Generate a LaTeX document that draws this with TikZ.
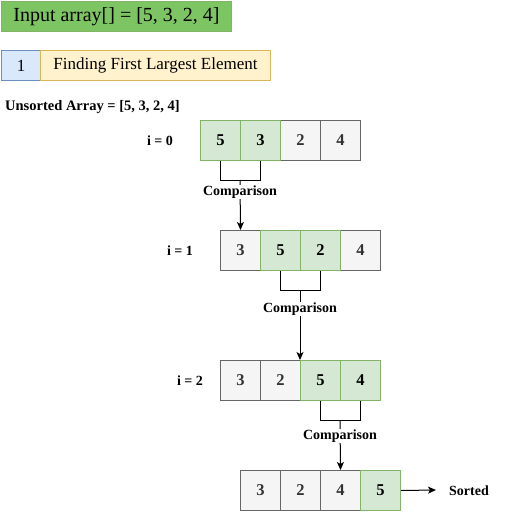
\documentclass[tikz,border=0pt]{standalone}
\usepackage{fontspec}
\setmainfont{Liberation Serif}
\usetikzlibrary{arrows.meta}
\definecolor{topgreen}{RGB}{125,196,98}
\definecolor{gstroke}{HTML}{82B366}
\definecolor{gfill}{HTML}{D5E8D4}
\definecolor{grstroke}{HTML}{666666}
\definecolor{grfill}{HTML}{F5F5F5}
\definecolor{bfill}{HTML}{DAE8FC}
\definecolor{bstroke}{HTML}{6C8EBF}
\definecolor{yfill}{HTML}{FFF2CC}
\definecolor{ystroke}{HTML}{D6B656}
\tikzset{
  cellbase/.style={minimum width=40pt,minimum height=40pt,inner sep=0pt,anchor=north west,line width=1pt,font=\fontsize{16.5}{19}\selectfont\bfseries},
  graycell/.style={cellbase,draw=grstroke,fill=grfill,text=black!80},
  greencell/.style={cellbase,draw=gstroke,fill=gfill},
  lbl/.style={font=\fontsize{14}{17}\selectfont\bfseries,inner sep=1pt},
  cmp/.style={lbl,fill=white},
  conn/.style={line width=1pt,draw=black},
  arr/.style={conn,-{Stealth[length=8pt,width=7pt,inset=2pt]}}
}
\begin{document}
\begin{tikzpicture}[x=1pt,y=-1pt]
\useasboundingbox (0,0) rectangle (505,512);
% header
\node[draw=gstroke,fill=topgreen,line width=1pt,minimum width=230pt,minimum height=30pt,inner sep=0pt,anchor=north west,font=\fontsize{20}{24}\selectfont] (title) at (1,1) {Input array[] = [5, 3, 2, 4]};
\node[draw=bstroke,fill=bfill,line width=1pt,minimum width=39pt,minimum height=30pt,inner sep=0pt,anchor=north west,font=\fontsize{17}{20}\selectfont] (num) at (1,50) {1};
\node[draw=ystroke,fill=yfill,line width=1pt,minimum width=230pt,minimum height=30pt,inner sep=0pt,anchor=north west,font=\fontsize{17}{20}\selectfont] (step1) at (40,50) {Finding First Largest Element};
\node[font=\fontsize{14.5}{17}\selectfont\bfseries,inner sep=1pt,anchor=west] (uns) at (4,107) {Unsorted Array = [5, 3, 2, 4]};
% row 0
\node[lbl] (i0) at (160,141) {i = 0};
\node[graycell] (a2) at (280,120) {2};
\node[graycell] (a3) at (320,120) {4};
\node[greencell] (a0) at (200,120) {5};
\node[greencell] (a1) at (240,120) {3};
% row 1
\node[lbl] (i1) at (180,251) {i = 1};
\node[graycell] (b0) at (220,230) {3};
\node[graycell] (b3) at (340,230) {4};
\node[greencell] (b1) at (260,230) {5};
\node[greencell] (b2) at (300,230) {2};
% row 2
\node[lbl] (i2) at (190,381) {i = 2};
\node[graycell] (c0) at (220,360) {3};
\node[graycell] (c1) at (260,360) {2};
\node[greencell] (c2) at (300,360) {5};
\node[greencell] (c3) at (340,360) {4};
% row 3
\node[graycell] (d0) at (240,470) {3};
\node[graycell] (d1) at (280,470) {2};
\node[graycell] (d2) at (320,470) {4};
\node[greencell] (d3) at (360,470) {5};
% brackets and arrows
\coordinate (m0) at (240,180);
\draw[conn] (a0.south) -- (a0.south |- m0) -- (a1.south |- m0) -- (a1.south);
\draw[arr] (m0) -- (b0.north);
\node[cmp] (cmp0) at (240,192) {Comparison};
\coordinate (m1) at (300,290);
\draw[conn] (b1.south) -- (b1.south |- m1) -- (b2.south |- m1) -- (b2.south);
\draw[arr] (m1) -- (m1 |- c2.north);
\node[cmp] (cmp1) at (300,309) {Comparison};
\coordinate (m2) at (340,420);
\draw[conn] (c2.south) -- (c2.south |- m2) -- (c3.south |- m2) -- (c3.south);
\draw[arr] (m2) -- (d2.north);
\node[cmp] (cmp2) at (340,436) {Comparison};
% sorted
\node[lbl] (sorted) at (469,491) {Sorted};
\coordinate (se) at (436,490);
\draw[arr] (d3.east) -- (se);
\end{tikzpicture}
\end{document}
